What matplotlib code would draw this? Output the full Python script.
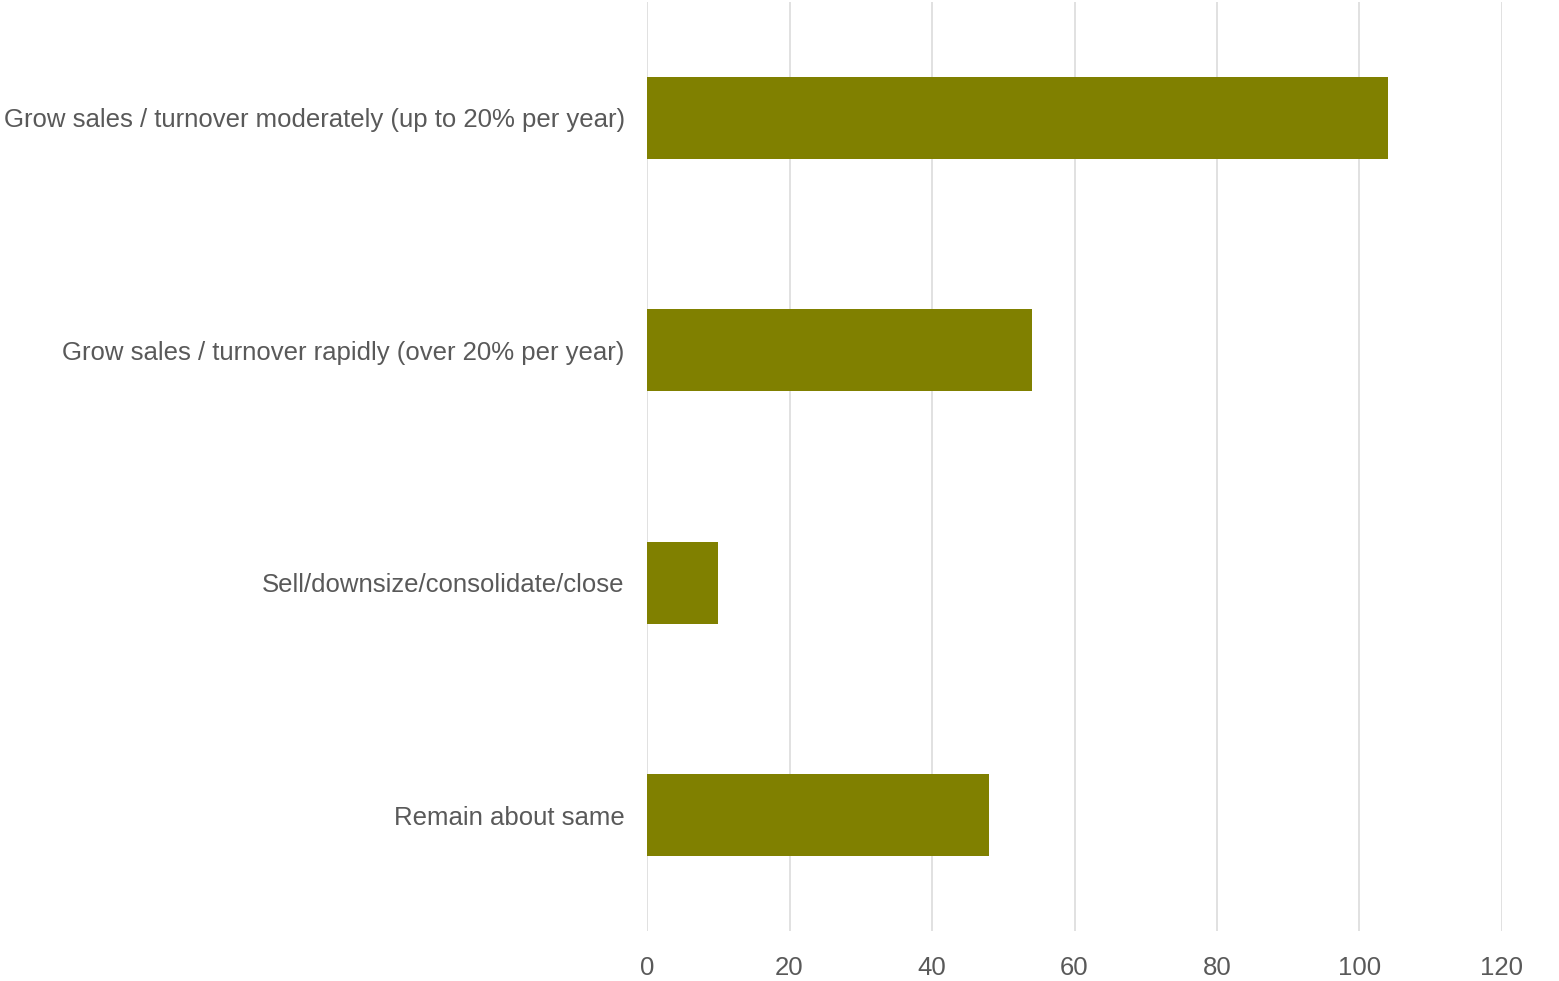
import matplotlib
matplotlib.use("Agg")
import matplotlib.pyplot as plt

categories = [
    "Grow sales / turnover moderately (up to 20% per year)",
    "Grow sales / turnover rapidly (over 20% per year)",
    "Sell/downsize/consolidate/close",
    "Remain about same",
]
values = [104, 54, 10, 48]
xticks = [0, 20, 40, 60, 80, 100, 120]

plt.rcParams['font.family'] = ['Liberation Sans', 'DejaVu Sans']

fig = plt.figure(figsize=(15.59, 9.81), dpi=100)
ax = fig.add_axes([647/1559, 1 - 931.4/981, (1502 - 647)/1559, (931.4 - 1.8)/981])

pos = list(range(len(categories)))
ax.barh(pos, values, height=0.353, color="#808000", zorder=3)
ax.set_ylim(len(categories) - 0.5, -0.5)
ax.set_xlim(0, 120)
ax.set_xticks(xticks)
ax.set_xticklabels([str(t) for t in xticks])
ax.set_yticks(pos)
ax.set_yticklabels(categories)

ax.grid(axis='x', color='#dcdcdc', linewidth=1.2, zorder=0)
ax.grid(axis='y', visible=False)
for s in ax.spines.values():
    s.set_visible(False)
ax.tick_params(axis='both', length=0, labelsize=18.5, labelcolor='#595959')
ax.tick_params(axis='x', pad=18)
ax.tick_params(axis='y', pad=16)

fig.savefig("out.png", dpi=100, facecolor="white")
